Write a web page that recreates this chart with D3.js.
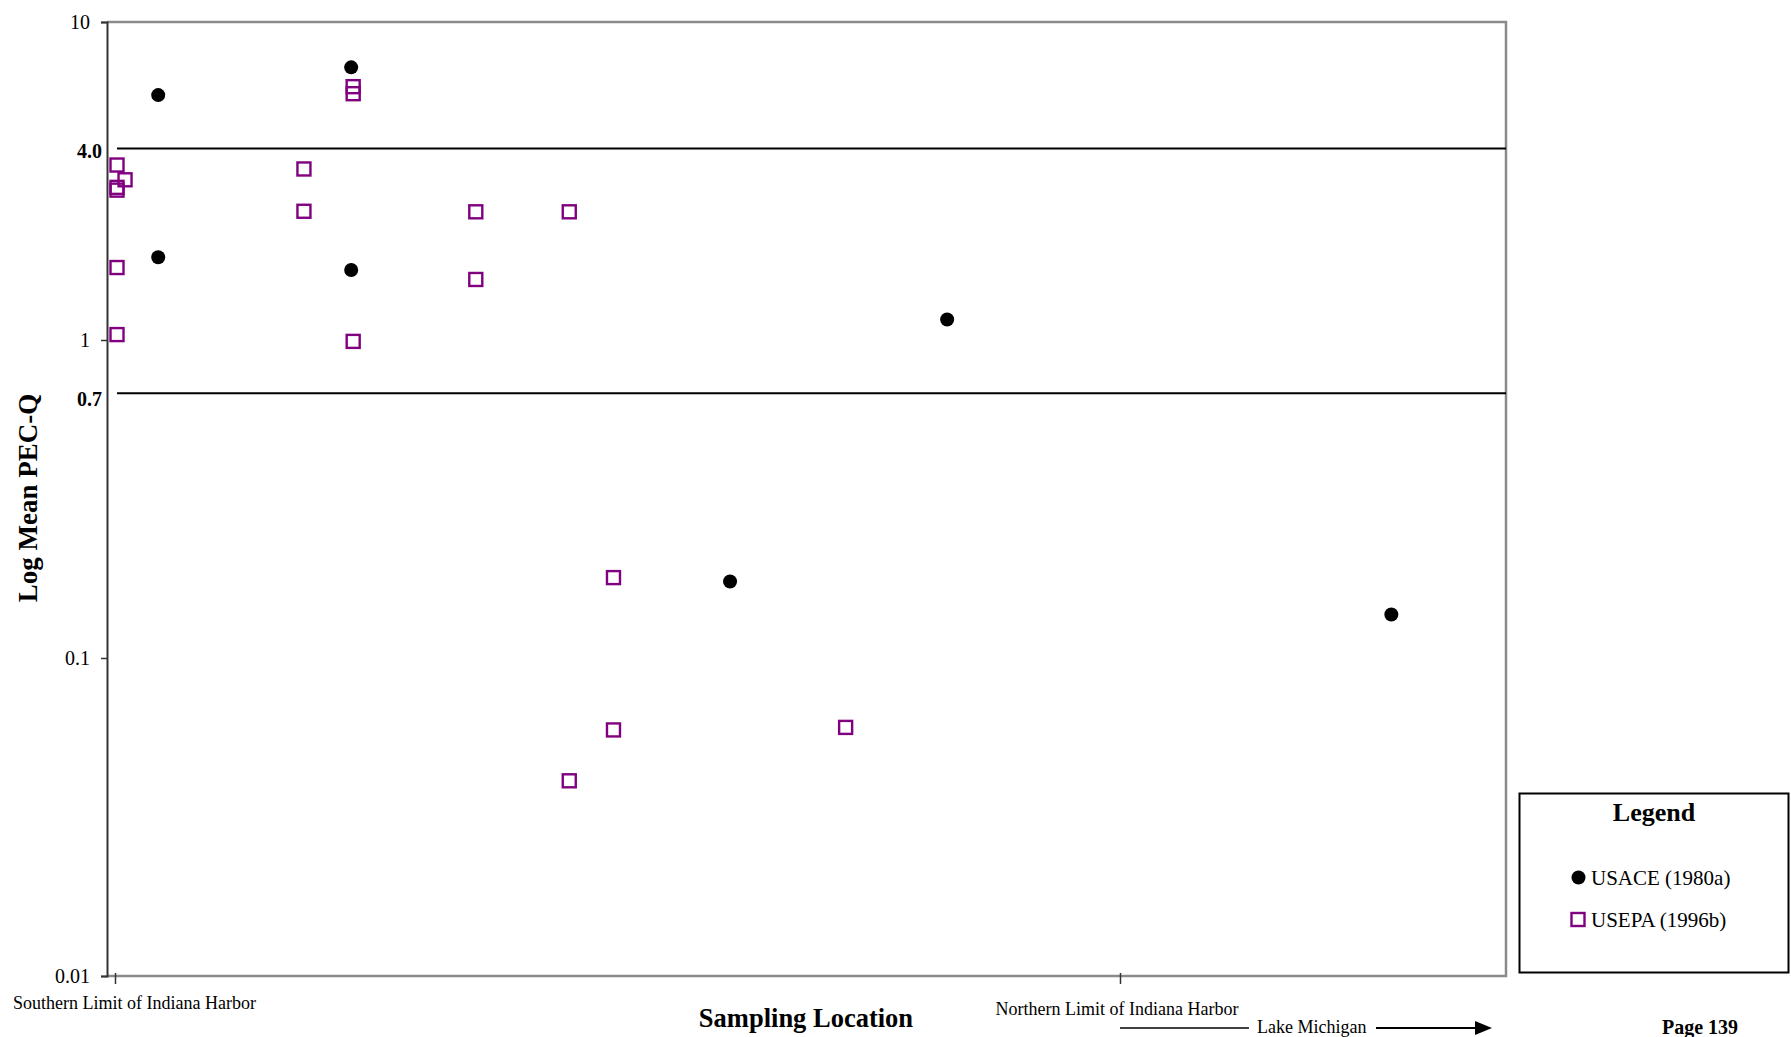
<!DOCTYPE html>
<html>
<head>
<meta charset="utf-8">
<script src="https://cdn.jsdelivr.net/npm/d3@7"></script>
<style>
  body { margin: 0; background: #fff; }
  text { font-family: "Liberation Serif", "Times New Roman", serif; fill: #000; }
</style>
</head>
<body>
<svg id="chart" width="1791" height="1037"></svg>
<script>
// sampling location, in units where the southern limit is 0 and the northern limit is 10
const usaceLoc = [0.43, 0.43, 2.35, 2.35, 6.12, 8.28, 12.70]
const usaceVal = [5.89, 1.82, 7.20, 1.66, 0.174, 1.16, 0.137]

const usepaLoc = [0.02, 0.10, 0.02, 0.02, 0.02, 0.02, 1.88, 1.88, 2.37, 2.37, 2.37, 3.59, 3.59, 4.52, 4.52, 4.96, 4.96, 7.27]
const usepaVal = [3.55, 3.19, 3.02, 2.96, 1.69, 1.04, 3.45, 2.54, 6.26, 5.95, 0.99, 2.53, 1.55, 2.53, 0.0411, 0.179, 0.0594, 0.0605]

const yTicks = [0.01, 0.1, 1, 10]
const yTickLabels = ['0.01', '0.1', '1', '10']
// guideline positions as drawn in the figure (the lower one sits a bit under 0.7)
const refLines = [4.0, 0.68]
const refLabels = ['4.0', '0.7']
const xTicks = [0, 10]
const xTickLabels = ['Southern Limit of Indiana Harbor', 'Northern Limit of Indiana Harbor']
const legendLabels = ['USACE (1980a)', 'USEPA (1996b)']

const purple = '#800080'
const plotL = 107, plotR = 1506, plotT = 22, plotB = 976

const svg = d3.select('#chart')

// scales
const x = d3.scaleLinear().domain([0, 10]).range([115, 1120])
const y = d3.scaleLog().domain([0.01, 10]).range([plotB, plotT])

// plot frame (top, right, bottom in grey)
svg.append('path')
  .attr('d', `M${plotL},${plotT}H${plotR}V${plotB}H${plotL}`)
  .attr('fill', 'none')
  .attr('stroke', '#8a8a8a')
  .attr('stroke-width', 2.5)

// y axis
const yAxis = svg.append('g')
  .attr('transform', `translate(${plotL},0)`)
  .call(d3.axisLeft(y).tickValues(yTicks).tickSize(6).tickPadding(11)
    .tickFormat((d, i) => yTickLabels[i]))
yAxis.select('.domain').attr('stroke', '#333').attr('stroke-width', 2)
yAxis.selectAll('.tick line').attr('stroke', '#333').attr('stroke-width', 1.5)
yAxis.selectAll('.tick text')
  .style('font-family', '"Liberation Serif", serif')
  .style('font-size', '20px')
  .attr('fill', '#000')

// x axis ticks (crossing the axis line)
const xAxis = svg.append('g')
  .attr('transform', `translate(0,${plotB})`)
  .call(d3.axisBottom(x).tickValues(xTicks).tickSize(8).tickFormat(''))
xAxis.select('.domain').remove()
xAxis.selectAll('.tick line').attr('y1', -3).attr('stroke', '#333').attr('stroke-width', 1.5)

// x tick labels
svg.append('text')
  .attr('x', 13).attr('y', 1009)
  .style('font-size', '18px')
  .text(xTickLabels[0])
svg.append('text')
  .attr('x', x(10) - 3).attr('y', 1015)
  .attr('text-anchor', 'middle')
  .style('font-size', '18px')
  .text(xTickLabels[1])

// reference lines
svg.selectAll('.ref')
  .data(refLines)
  .enter().append('line')
  .attr('x1', 117).attr('x2', plotR)
  .attr('y1', d => y(d)).attr('y2', d => y(d))
  .attr('stroke', '#000')
  .attr('stroke-width', 2)
svg.selectAll('.refLabel')
  .data(refLines)
  .enter().append('text')
  .attr('x', 102)
  .attr('y', (d, i) => y(d) + (i === 0 ? 9 : 13))
  .attr('text-anchor', 'end')
  .style('font-size', '20px')
  .style('font-weight', 'bold')
  .text((d, i) => refLabels[i])

// USEPA squares
const sq = 13
svg.selectAll('.usepa')
  .data(usepaVal)
  .enter().append('rect')
  .attr('x', (d, i) => x(usepaLoc[i]) - sq / 2)
  .attr('y', d => y(d) - sq / 2)
  .attr('width', sq).attr('height', sq)
  .attr('fill', 'none')
  .attr('stroke', purple)
  .attr('stroke-width', 2.4)

// USACE circles
svg.selectAll('.usace')
  .data(usaceVal)
  .enter().append('circle')
  .attr('cx', (d, i) => x(usaceLoc[i]))
  .attr('cy', d => y(d))
  .attr('r', 7)
  .attr('fill', '#000')

// axis titles
svg.append('text')
  .attr('transform', 'translate(37,498) rotate(-90)')
  .attr('text-anchor', 'middle')
  .style('font-size', '27px')
  .style('font-weight', 'bold')
  .text('Log Mean PEC-Q')
svg.append('text')
  .attr('x', 806).attr('y', 1027)
  .attr('text-anchor', 'middle')
  .style('font-size', '26.5px')
  .style('font-weight', 'bold')
  .text('Sampling Location')

// Lake Michigan arrow
svg.append('line')
  .attr('x1', 1120).attr('x2', 1249).attr('y1', 1028).attr('y2', 1028)
  .attr('stroke', '#000').attr('stroke-width', 1.5)
svg.append('text')
  .attr('x', 1257).attr('y', 1033)
  .style('font-size', '18px')
  .text('Lake Michigan')
svg.append('line')
  .attr('x1', 1376).attr('x2', 1478).attr('y1', 1028).attr('y2', 1028)
  .attr('stroke', '#000').attr('stroke-width', 1.8)
svg.append('path')
  .attr('d', 'M1475,1021L1492,1028L1475,1035Z')
  .attr('fill', '#000')

// page number
svg.append('text')
  .attr('x', 1700).attr('y', 1034)
  .attr('text-anchor', 'middle')
  .style('font-size', '20px')
  .style('font-weight', 'bold')
  .text('Page 139')

// legend
const lg = svg.append('g')
lg.append('rect')
  .attr('x', 1519.5).attr('y', 793.5)
  .attr('width', 269).attr('height', 179)
  .attr('fill', '#fff')
  .attr('stroke', '#000')
  .attr('stroke-width', 2)
lg.append('text')
  .attr('x', 1654).attr('y', 821)
  .attr('text-anchor', 'middle')
  .style('font-size', '26px')
  .style('font-weight', 'bold')
  .text('Legend')
lg.append('circle')
  .attr('cx', 1578.5).attr('cy', 877.5).attr('r', 7)
  .attr('fill', '#000')
lg.append('rect')
  .attr('x', 1578 - sq / 2).attr('y', 919.5 - sq / 2)
  .attr('width', sq).attr('height', sq)
  .attr('fill', 'none').attr('stroke', purple).attr('stroke-width', 2.4)
lg.selectAll('.lgText')
  .data(legendLabels)
  .enter().append('text')
  .attr('x', 1591)
  .attr('y', (d, i) => 885 + i * 41.5)
  .style('font-size', '21px')
  .text(d => d)
</script>
</body>
</html>
